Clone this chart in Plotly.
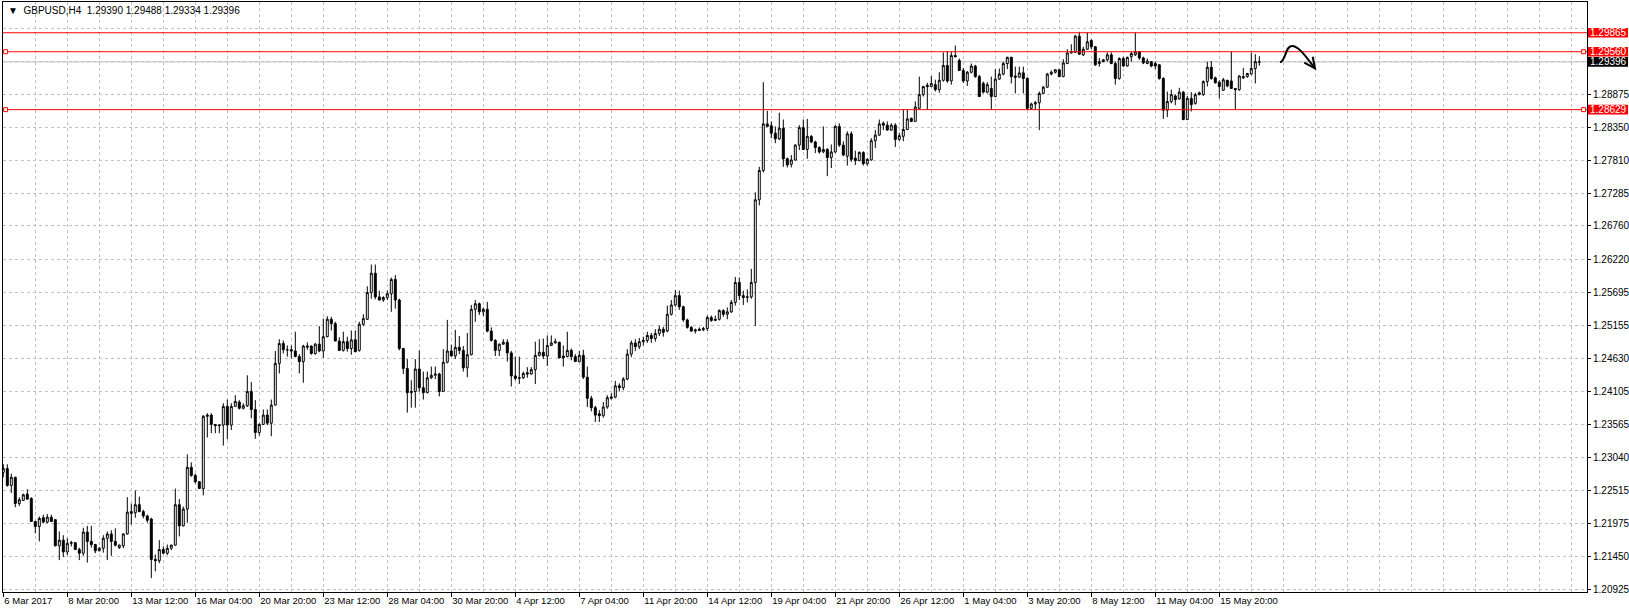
import plotly.graph_objects as go

# GBPUSD H4 candles, values in units of 0.0001 (pips)
opens = [
12280,12286,12259,12272,12230,12235,12245,12238,12201,12193,
12207,12200,12208,12204,12162,12171,12152,12166,12167,12156,
12150,12184,12169,12164,12154,12158,12174,12181,12169,12159,
12162,12181,12214,12215,12228,12217,12210,12205,12140,12138,
12156,12150,12158,12163,12228,12194,12221,12288,12275,12265,
12254,12370,12372,12357,12355,12356,12386,12356,12386,12393,
12383,12387,12410,12381,12344,12357,12372,12359,12388,12455,
12487,12477,12477,12475,12466,12458,12481,12483,12471,12486,
12475,12498,12526,12519,12491,12476,12490,12479,12493,12476,
12518,12526,12569,12600,12562,12557,12561,12567,12590,12557,
12479,12447,12408,12410,12446,12416,12408,12432,12436,12438,
12410,12457,12475,12467,12481,12476,12448,12469,12542,12551,
12538,12542,12507,12492,12476,12486,12489,12472,12435,12431,
12432,12440,12438,12445,12468,12473,12467,12484,12488,12489,
12467,12466,12476,12466,12458,12468,12433,12399,12384,12374,
12371,12385,12399,12401,12419,12416,12430,12470,12488,12482,
12490,12492,12500,12495,12503,12510,12507,12534,12549,12564,
12546,12525,12513,12507,12508,12509,12511,12529,12524,12526,
12540,12534,12538,12553,12585,12564,12561,12562,12585,12718,
12765,12840,12837,12825,12816,12833,12784,12775,12782,12806,
12834,12799,12820,12811,12802,12795,12799,12786,12795,12836,
12806,12788,12824,12785,12781,12794,12776,12782,12813,12822,
12841,12838,12830,12838,12815,12820,12831,12849,12844,12865,
12887,12902,12900,12903,12895,12910,12934,12909,12950,12942,
12926,12909,12923,12933,12916,12905,12891,12897,12884,12912,
12920,12937,12947,12917,12915,12922,12913,12865,12872,12874,
12889,12899,12920,12923,12927,12916,12937,12954,12955,12981,
12951,12960,12974,12964,12937,12940,12943,12951,12937,12913,
12945,12933,12948,12951,12956,12946,12937,12940,12937,12935,
12913,12862,12876,12885,12880,12891,12847,12881,12873,12887,
12887,12908,12931,12914,12907,12894,12910,12909,12897,12895,
12914,12916,12920,12929,12939.0]
highs = [
12293,12293,12278,12273,12240,12246,12253,12240,12202,12209,
12212,12213,12212,12204,12185,12179,12174,12170,12168,12159,
12191,12194,12194,12165,12160,12179,12185,12187,12190,12164,
12182,12240,12230,12251,12241,12220,12212,12207,12148,12171,
12161,12164,12164,12254,12237,12225,12309,12296,12278,12266,
12372,12375,12375,12357,12357,12391,12397,12391,12404,12396,
12391,12436,12425,12396,12359,12381,12381,12397,12475,12494,
12492,12484,12484,12506,12470,12485,12489,12484,12488,12515,
12527,12531,12530,12522,12497,12506,12498,12508,12508,12522,
12534,12579,12614,12614,12572,12563,12572,12593,12597,12559,
12480,12462,12428,12462,12476,12442,12442,12450,12450,12440,
12478,12525,12485,12509,12499,12483,12504,12549,12557,12553,
12545,12554,12513,12494,12487,12494,12494,12475,12466,12466,
12442,12449,12449,12490,12494,12495,12500,12500,12495,12490,
12484,12506,12479,12470,12475,12477,12450,12403,12387,12380,
12393,12404,12407,12427,12423,12433,12478,12492,12494,12496,
12498,12506,12504,12510,12516,12514,12548,12557,12573,12572,
12548,12527,12515,12511,12513,12514,12532,12532,12532,12542,
12542,12545,12557,12594,12593,12572,12574,12607,12730,12771,
12907,12861,12844,12836,12858,12847,12786,12790,12807,12838,
12847,12848,12822,12813,12804,12836,12801,12807,12838,12841,
12812,12828,12828,12797,12796,12796,12785,12817,12830,12847,
12844,12844,12841,12841,12826,12863,12863,12850,12876,12916,
12901,12906,12917,12911,12923,12955,12957,12956,12966,12945,
12930,12925,12937,12935,12919,12908,12907,12916,12928,12929,
12940,12948,12948,12932,12932,12932,12915,12874,12877,12892,
12901,12922,12926,12928,12928,12944,12960,12968,12983,12988,
12964,12987,12976,12965,12946,12944,12955,12955,12940,12947,
12948,12948,12956,12987,12956,12948,12945,12940,12940,12936,
12915,12892,12895,12887,12898,12893,12885,12891,12890,12892,
12910,12940,12941,12916,12910,12914,12911,12956,12897,12918,
12930,12922,12954,12952,12948.8]
lows = [
12272,12257,12247,12224,12226,12234,12236,12201,12182,12169,
12198,12198,12200,12161,12139,12144,12147,12161,12155,12139,
12146,12135,12159,12150,12153,12151,12139,12146,12161,12157,
12158,12180,12196,12207,12216,12206,12199,12110,12121,12134,
12149,12147,12155,12162,12177,12193,12199,12273,12262,12253,
12243,12336,12343,12343,12343,12323,12333,12348,12385,12381,
12381,12385,12367,12334,12339,12356,12356,12338,12388,12439,
12471,12466,12463,12465,12439,12424,12477,12469,12469,12473,
12464,12497,12508,12491,12476,12474,12474,12469,12473,12474,
12515,12525,12559,12558,12556,12554,12557,12538,12543,12476,
12438,12376,12384,12384,12410,12397,12407,12430,12430,12402,
12409,12455,12467,12462,12470,12442,12433,12468,12522,12533,
12531,12505,12490,12467,12467,12485,12458,12418,12428,12422,
12430,12432,12437,12422,12466,12462,12451,12483,12487,12463,
12450,12465,12460,12458,12457,12430,12385,12378,12361,12361,
12368,12382,12397,12399,12410,12412,12428,12465,12475,12478,
12484,12488,12488,12490,12499,12498,12505,12532,12546,12541,
12522,12511,12506,12503,12507,12507,12507,12522,12523,12524,
12530,12526,12536,12548,12557,12549,12553,12559,12515,12709,
12762,12835,12817,12809,12814,12771,12770,12770,12781,12798,
12798,12784,12809,12793,12792,12793,12756,12769,12793,12803,
12788,12773,12779,12774,12780,12773,12773,12781,12801,12821,
12830,12829,12829,12803,12813,12812,12830,12843,12843,12864,
12884,12863,12899,12892,12890,12908,12906,12903,12947,12925,
12906,12901,12921,12914,12883,12889,12889,12863,12883,12911,
12918,12928,12905,12889,12914,12889,12863,12863,12863,12830,
12888,12898,12918,12921,12915,12915,12936,12953,12954,12951,
12949,12959,12960,12933,12932,12939,12940,12936,12903,12911,
12932,12932,12940,12949,12943,12936,12936,12931,12928,12911,
12848,12851,12873,12870,12879,12846,12846,12860,12871,12886,
12885,12900,12911,12905,12881,12893,12899,12897,12863,12893,
12912,12914,12919,12905,12933.4]
closes = [
12286,12259,12272,12230,12236,12244,12237,12201,12193,12206,
12200,12208,12201,12162,12171,12152,12166,12167,12156,12150,
12184,12169,12164,12154,12158,12174,12181,12169,12163,12163,
12181,12216,12217,12228,12217,12210,12203,12140,12138,12156,
12150,12158,12163,12228,12194,12221,12288,12275,12265,12254,
12370,12372,12357,12355,12356,12386,12356,12386,12394,12383,
12387,12410,12381,12344,12357,12372,12359,12388,12455,12487,
12477,12477,12475,12466,12458,12483,12483,12471,12486,12475,
12498,12526,12519,12491,12476,12490,12479,12493,12474,12518,
12527,12569,12600,12562,12557,12561,12567,12590,12557,12479,
12447,12408,12410,12446,12416,12408,12432,12436,12438,12410,
12457,12475,12467,12481,12476,12448,12469,12542,12551,12538,
12542,12507,12492,12476,12486,12489,12472,12435,12431,12432,
12439,12438,12445,12468,12473,12467,12484,12488,12490,12464,
12464,12476,12466,12458,12468,12433,12399,12384,12372,12371,
12385,12400,12401,12419,12416,12430,12470,12488,12482,12490,
12492,12500,12495,12503,12510,12505,12534,12549,12564,12546,
12525,12513,12507,12509,12510,12511,12529,12524,12526,12540,
12534,12538,12553,12585,12564,12561,12562,12585,12718,12765,
12840,12836,12825,12816,12833,12784,12774,12782,12806,12834,
12799,12820,12811,12802,12795,12799,12786,12795,12836,12806,
12790,12824,12783,12781,12794,12776,12783,12813,12822,12840,
12838,12830,12838,12815,12821,12831,12848,12844,12867,12887,
12900,12900,12905,12895,12910,12934,12909,12950,12948,12926,
12909,12923,12933,12916,12884,12891,12903,12884,12912,12920,
12937,12947,12916,12915,12922,12913,12865,12872,12874,12889,
12899,12920,12923,12927,12916,12938,12954,12956,12981,12952,
12960,12972,12964,12935,12940,12943,12951,12937,12913,12945,
12933,12947,12953,12956,12946,12938,12941,12933,12933,12913,
12862,12876,12887,12879,12891,12847,12881,12871,12887,12890,
12908,12931,12913,12906,12900,12911,12901,12897,12895,12917,
12916,12921,12929,12940,12939.6]

x_tick_idx = list(range(0, 305, 16))
x_tick_labels = ["6 Mar 2017", "8 Mar 20:00", "13 Mar 12:00", "16 Mar 04:00", "20 Mar 20:00",
                 "23 Mar 12:00", "28 Mar 04:00", "30 Mar 20:00", "4 Apr 12:00", "7 Apr 04:00",
                 "11 Apr 20:00", "14 Apr 12:00", "19 Apr 04:00", "21 Apr 20:00", "26 Apr 12:00",
                 "1 May 04:00", "3 May 20:00", "8 May 12:00", "11 May 04:00", "15 May 20:00"]
y_ticks = [1.20925, 1.21450, 1.21975, 1.22515, 1.23040, 1.23565, 1.24105, 1.24630, 1.25155,
           1.25695, 1.26220, 1.26760, 1.27285, 1.27810, 1.28350, 1.28875, 1.29400, 1.29940]
y_hidden = [1.29400, 1.29940]  # grid rows whose labels sit under the price tags
red_levels = [1.29865, 1.29560, 1.28629]
level_markers = [False, True, True]
bid = 1.29396
title_text = "GBPUSD,H4  1.29390 1.29488 1.29334 1.29396"

P = 1e-4
o = [v * P for v in opens]
h = [v * P for v in highs]
l = [v * P for v in lows]
c = [v * P for v in closes]
idx = list(range(len(closes)))

FONT = "Liberation Sans"
FS = 10
FSX = 9.5
GRID = "#c0c0c0"

fig = go.Figure(go.Candlestick(
    x=idx, open=o, high=h, low=l, close=c,
    increasing=dict(line=dict(color="black", width=1), fillcolor="white"),
    decreasing=dict(line=dict(color="black", width=1), fillcolor="black"),
    whiskerwidth=0, hoverinfo="skip", showlegend=False))

W, H = 1629, 613
ml, mr, mt, mb = 3, 42, 2, 21
pw = W - ml - mr
ph = H - mt - mb
ymin, ymax = 1.20877, 1.30359
xmin = -0.075
xmax = xmin + pw / 4.0
pxy = (ymax - ymin) / ph  # price per pixel

shapes = []
annotations = []

# bid line
shapes.append(dict(type="line", xref="paper", yref="y", x0=0, x1=1, y0=bid, y1=bid,
                   line=dict(color="#c0c0c0", width=1), layer="below"))
for lv, mk in zip(red_levels, level_markers):
    shapes.append(dict(type="line", xref="paper", yref="y", x0=0, x1=1, y0=lv, y1=lv,
                       line=dict(color="#ff0000", width=1)))
    if mk:
        for xa in (xmin + 0.15, xmax - 1.35):
            shapes.append(dict(type="rect", xref="x", yref="y", x0=xa, x1=xa + 1.0,
                               y0=lv - 2 * pxy, y1=lv + 2 * pxy,
                               line=dict(color="#ff0000", width=1), fillcolor="white"))
# price tags
tags = [(v, "#ff0000") for v in red_levels] + [(bid, "#000000")]
for v, col in tags:
    shapes.append(dict(type="rect", xref="paper", yref="y", x0=(1588 - ml) / pw, x1=(1628 - ml) / pw,
                       y0=v - 4.8 * pxy, y1=v + 4.8 * pxy, line=dict(width=0), fillcolor=col))
    annotations.append(dict(xref="paper", yref="y", x=(1608 - ml) / pw, y=v, text=f"{v:.5f}",
                            showarrow=False, xanchor="center", yanchor="middle",
                            font=dict(family=FONT, size=FS, color="white")))

# hand-drawn forecast arrow
def px2d(xp, yp):
    return (xmin + (xp - ml) / 4.0, ymax - (yp - mt) * pxy)

pts = [px2d(*p) for p in [(1280, 62.3), (1286, 61), (1285, 46), (1292, 46), (1299, 46), (1306, 57), (1315, 68.3)]]
path = "M {0[0]},{0[1]} C {1[0]},{1[1]} {2[0]},{2[1]} {3[0]},{3[1]} C {4[0]},{4[1]} {5[0]},{5[1]} {6[0]},{6[1]}".format(*pts)
shapes.append(dict(type="path", xref="x", yref="y", path=path, line=dict(color="black", width=2)))
a1, tip, a2 = px2d(1304.3, 62.7), px2d(1315, 68.3), px2d(1312.7, 56.7)
shapes.append(dict(type="path", xref="x", yref="y",
                   path=f"M {a1[0]},{a1[1]} L {tip[0]},{tip[1]} L {a2[0]},{a2[1]}",
                   line=dict(color="black", width=2)))

annotations.append(dict(xref="paper", yref="paper", x=(6 - ml) / pw, y=1 - (11 - mt) / ph,
                        text="\u25bc  " + title_text, showarrow=False, xanchor="left", yanchor="middle",
                        font=dict(family=FONT, size=FS, color="black")))

fig.update_layout(
    width=W, height=H, autosize=False,
    margin=dict(l=ml, r=mr, t=mt, b=mb, pad=0, autoexpand=False),
    paper_bgcolor="white", plot_bgcolor="white",
    font=dict(family=FONT, size=FS, color="black"),
    shapes=shapes, annotations=annotations, hovermode=False,
    xaxis=dict(range=[xmin, xmax], tickmode="array", tickvals=x_tick_idx, ticktext=x_tick_labels,
               tickangle=0, automargin=False,
               ticks="outside", ticklen=4, tickcolor="black", ticklabelposition="outside right",
               showline=True, linecolor="black", linewidth=1, mirror=True,
               showgrid=True, gridcolor=GRID, griddash="3px,3px", gridwidth=1, zeroline=False,
               minor=dict(tick0=0, dtick=8, showgrid=True, gridcolor=GRID, griddash="3px,3px", ticks=""),
               rangeslider=dict(visible=False), fixedrange=True,
               tickfont=dict(family=FONT, size=FSX, color="black")),
    yaxis=dict(range=[ymin, ymax], side="right", tickmode="array", tickvals=y_ticks,
               ticktext=["" if v in y_hidden else f"{v:.5f}" for v in y_ticks],
               automargin=False,
               ticks="outside", ticklen=3, tickcolor="black",
               showline=True, linecolor="black", linewidth=1, mirror=True,
               showgrid=True, gridcolor=GRID, griddash="3px,3px", gridwidth=1, zeroline=False,
               fixedrange=True, tickfont=dict(family=FONT, size=FS, color="black")),
)

fig.write_html("out.html", config={"displayModeBar": False, "staticPlot": True},
               post_script="document.body.style.margin='0';")
